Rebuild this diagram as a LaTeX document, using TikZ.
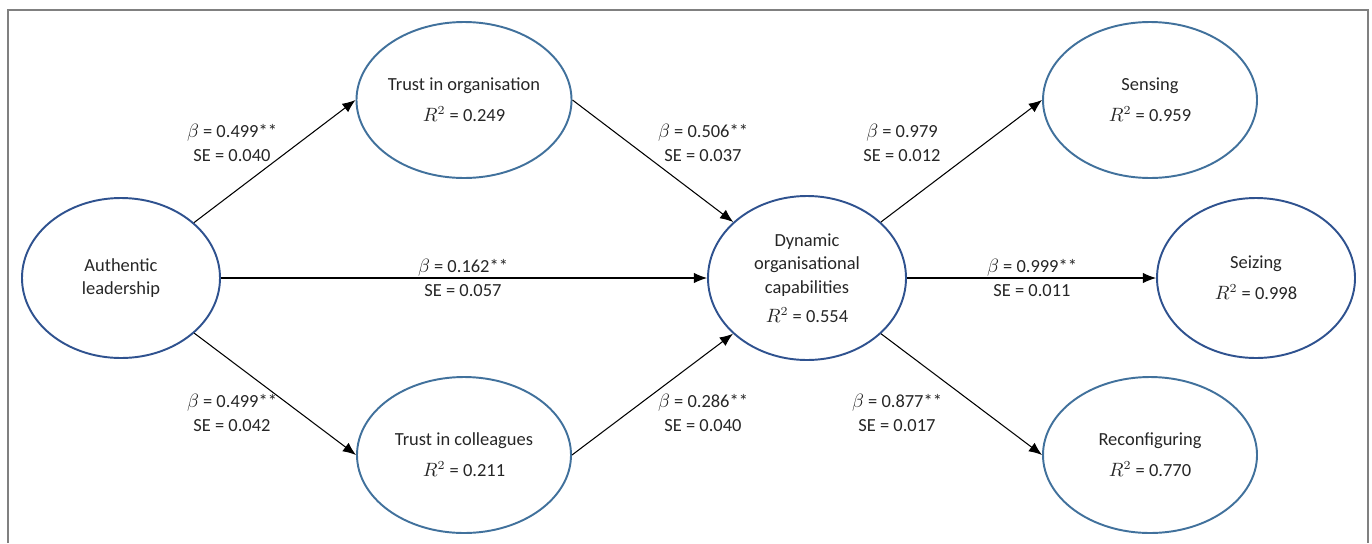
\documentclass[tikz,border=0pt]{standalone}
\usepackage{fontspec}
\setmainfont{Carlito}
\usetikzlibrary{arrows.meta}
\usetikzlibrary{shapes.geometric}
\definecolor{navyline}{RGB}{47,82,143}
\definecolor{steelline}{RGB}{65,113,156}
\definecolor{framegray}{RGB}{128,128,128}
\definecolor{textgray}{RGB}{38,38,38}

\begin{document}
\begin{tikzpicture}[x=0.2mm, y=-0.2mm, font=\fontsize{10.5}{13.5}\selectfont, text=textgray,
  latent/.style={ellipse, draw=navyline, line width=1.1pt, inner sep=0pt, align=center,
                 minimum width=3.96cm, minimum height=3.2cm},
  trustnode/.style={latent, draw=steelline, minimum width=4.28cm, minimum height=3.12cm},
  coef/.style={align=center, inner sep=1pt},
  path/.style={line width=0.6pt, -{Latex[length=7.5pt,width=6pt]}}]
\useasboundingbox (0,0) rectangle (1372,543);
\draw[framegray, line width=1pt] (8,543) -- (8,10) -- (1368,10) -- (1368,543);
%
\node[latent] (auth) at (121,278) {Authentic\\leadership};
\node[trustnode] (torg) at (464,100) {Trust in organisation\\[4pt]$R^2$ = 0.249};
\node[trustnode] (tcol) at (464,455) {Trust in colleagues\\[4pt]$R^2$ = 0.211};
\node[latent, minimum height=3.28cm] (doc) at (807,278) {Dynamic\\organisational\\capabilities\\[3pt]$R^2$ = 0.554};
\node[trustnode] (sens) at (1150,100) {Sensing\\[4pt]$R^2$ = 0.959};
\node[latent] (seiz) at (1256,278) {Seizing\\[4pt]$R^2$ = 0.998};
\node[trustnode] (reco) at (1150,455) {Reconfiguring\\[4pt]$R^2$ = 0.770};
%
\draw[path] (auth) -- (torg.west);
\draw[path] (auth) -- (tcol.west);
\draw[path] (auth.east) -- (doc.west);
\draw[path] (torg.east) -- (doc);
\draw[path] (tcol.east) -- (doc);
\draw[path] (doc) -- (sens.west);
\draw[path] (doc.east) -- (seiz.west);
\draw[path] (doc) -- (reco.west);
%
\node[coef] (c1) at (232,143) {$\beta$ = 0.499**\\SE = 0.040};
\node[coef] (c2) at (232,413) {$\beta$ = 0.499**\\SE = 0.042};
\node[coef] (c3) at (463,278) {$\beta$ = 0.162**\\SE = 0.057};
\node[coef] (c4) at (703,143) {$\beta$ = 0.506**\\SE = 0.037};
\node[coef] (c5) at (703,413) {$\beta$ = 0.286**\\SE = 0.040};
\node[coef] (c6) at (902,143) {$\beta$ = 0.979\\SE = 0.012};
\node[coef] (c7) at (1032,278) {$\beta$ = 0.999**\\SE = 0.011};
\node[coef] (c8) at (897,413) {$\beta$ = 0.877**\\SE = 0.017};
\end{tikzpicture}
\end{document}
